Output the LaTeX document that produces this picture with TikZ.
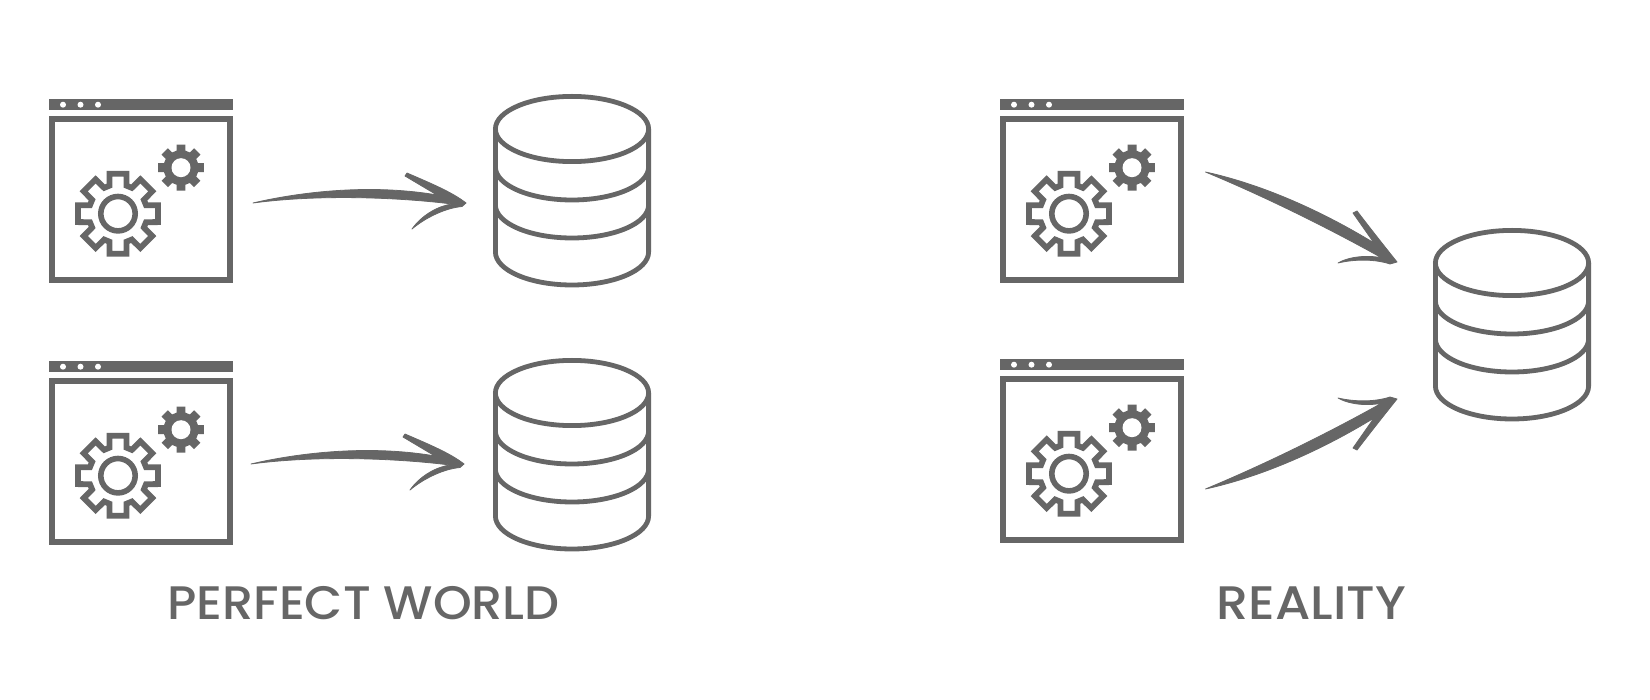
\documentclass[tikz,border=0pt]{standalone}
\usepackage{fontspec}
\setmainfont{Poppins}[UprightFont=* Medium]
\usetikzlibrary{calc}
\definecolor{ink}{HTML}{666666}
\tikzset{
  x=1pt,y=-1pt,
  winframe/.style={draw=ink,line width=6pt,fill=white,inner sep=0pt,outer sep=0pt,minimum width=178pt,minimum height=161pt},
  winbar/.style={fill=ink,inner sep=0pt,outer sep=0pt,minimum width=184pt,minimum height=11pt},
  windot/.style={fill=white,draw=none},
  gearline/.style={draw=ink,line width=5.8pt,miter limit=10,line join=miter},
  gearsolid/.style={fill=ink},
  dbline/.style={draw=ink,line width=4.8pt,line cap=round},
  dbbox/.style={inner sep=0pt,outer sep=0pt,minimum width=158pt,minimum height=193pt},
  brush/.style={fill=ink,draw=ink,line width=0.8pt,line join=round},
  caption/.style={text=ink,font=\fontsize{47}{47}\selectfont,inner sep=0pt},
}
% window with gears: name, left, top
\newcommand\appwindow[3]{%
  \node[winbar] (#1bar) at (#2+92,#3+5.5) {};
  \node[winframe] (#1) at (#2+92,#3+100.5) {};
  \begin{scope}[shift={(#2,#3)}]
    \foreach \dx in {14,31.5,49} \fill[windot] (\dx,5.7) circle (3);
    \begin{scope}[shift={(69,114.7)}]
      \draw[gearline] (-16.9:29.3)
        \foreach \a in {0,45,...,315} {
          -- (\a-16.9:29.3) -- (\a-11.85:40.9) -- (\a+11.85:40.9) -- (\a+16.9:29.3)
        } -- cycle;
      \draw[draw=ink,line width=5.6pt] (0,0) circle (17.2);
    \end{scope}
    \begin{scope}[shift={(132,68.7)}]
      \fill[gearsolid] (-14.8:17.6)
        \foreach \a in {0,45,...,315} {
          -- (\a-14.8:17.6) -- (\a-11.07:23.4) -- (\a+11.07:23.4) -- (\a+14.8:17.6)
        } -- cycle;
      \fill[white] (0,0) circle (9.5);
    \end{scope}
  \end{scope}
}
% database: name, centre x, top outer y
\newcommand\database[3]{%
  \node[dbbox] (#1) at (#2,#3+96.5) {};
  \begin{scope}[shift={(#2,#3+35)}]
    \draw[dbline] (0,0) ellipse [x radius=76.6,y radius=32.6];
    \draw[dbline] (-76.6,0) -- (-76.6,123) arc[start angle=180,end angle=360,x radius=76.6,y radius=-33] -- (76.6,0);
    \draw[dbline] (-76.6,38) arc[start angle=180,end angle=360,x radius=76.6,y radius=-33];
    \draw[dbline] (-76.6,76) arc[start angle=180,end angle=360,x radius=76.6,y radius=-33];
  \end{scope}
}
\begin{document}
\begin{tikzpicture}
\useasboundingbox (0,0) rectangle (1650,700);
\fill[white] (0,0) rectangle (1650,700);

\appwindow{wa}{49}{99}
\appwindow{wb}{49}{361}
\appwindow{wc}{1000}{99}
\appwindow{wd}{1000}{359}

\database{dba}{572}{94}
\database{dbb}{572}{358}
\database{dbc}{1512}{228}

\coordinate (a1s) at ($(wa.east)+(23,3.5)$);
\coordinate (a1t) at ($(dba.west)+(-27,12.5)$);
\coordinate (a2s) at ($(wb.east)+(21,2.5)$);
\coordinate (a2t) at ($(dbb.west)+(-29,9.5)$);
\coordinate (a3s) at ($(wc.east)+(24.5,-27.5)$);
\coordinate (a3t) at ($(dbc.west)+(-36,-62.5)$);
\coordinate (a4s) at ($(wd.east)+(24.5,29.5)$);
\coordinate (a4t) at ($(dbc.west)+(-36,74.5)$);

\fill[brush] (a1s) .. controls (300,192) and (370,183.5) .. (437,195) -- (405,176) -- (407,173)
  .. controls (430,183) and (452,192) .. (a1t) -- (462,206.5)
  .. controls (445,208) and (425,218) .. (412,229)
  .. controls (422,215) and (438,206) .. (452,204)
  .. controls (400,197.5) and (320,194) .. (a1s) -- cycle;

\fill[brush] (a2s) .. controls (298,453) and (368,444.5) .. (435,456) -- (403,437) -- (405,434)
  .. controls (428,444) and (450,453) .. (a2t) -- (460,467.5)
  .. controls (443,469) and (423,479) .. (410,490)
  .. controls (420,476) and (436,467) .. (450,465)
  .. controls (398,458.5) and (318,455) .. (a2s) -- cycle;

\fill[brush] (a3s) .. controls (1265,185) and (1325,213) .. (1374,243) -- (1353,213) -- (1357,211)
  .. controls (1370,228) and (1385,247) .. (a3t) -- (1390,264)
  .. controls (1375,259) and (1355,259) .. (1338,263)
  .. controls (1350,256) and (1370,255) .. (1382,258)
  .. controls (1330,229) and (1268,198) .. (a3s) -- cycle;

\fill[brush] (a4s) .. controls (1265,476) and (1325,448) .. (1374,418) -- (1353,448) -- (1357,450)
  .. controls (1370,433) and (1385,414) .. (a4t) -- (1390,397)
  .. controls (1375,402) and (1355,402) .. (1338,398)
  .. controls (1350,405) and (1370,406) .. (1382,403)
  .. controls (1330,432) and (1268,463) .. (a4s) -- cycle;

\node[caption,xscale=1.05] (cap1) at (363.5,603.5) {PERFECT WORLD};
\node[caption,xscale=1.08] (cap2) at (1311.5,603.5) {REALITY};
\end{tikzpicture}
\end{document}
